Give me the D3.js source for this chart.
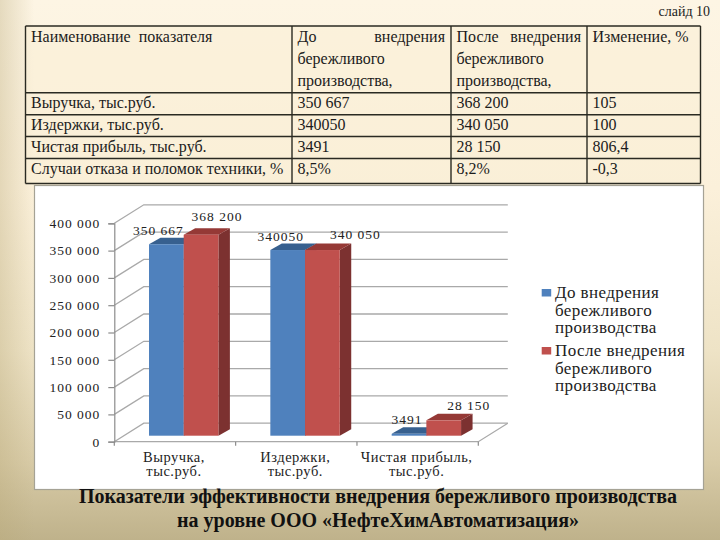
<!DOCTYPE html>
<html><head><meta charset="utf-8">
<script src="https://cdn.jsdelivr.net/npm/d3@7"></script>
<style>html,body{margin:0;padding:0;background:#fff}svg{display:block}text{font-family:"Liberation Serif",serif;white-space:pre}</style>
</head><body><svg id="c" width="720" height="540"></svg>
<script>
const categories = [["Выручка,","тыс.руб."],["Издержки,","тыс.руб."],["Чистая прибыль,","тыс.руб."]];
const seriesNames = [["До внедрения","бережливого","производства"],["После внедрения","бережливого","производства"]];
const before = [350667,340050,3491];
const after = [368200,340050,28150];
const beforeLabels = ["350 667","340050","3491"];
const afterLabels = ["368 200","340 050","28 150"];
const yTicks = [0,50000,100000,150000,200000,250000,300000,350000,400000];
const tableHeader = [["Наименование  показателя"],["До","бережливого","производства,"],["После","бережливого","производства,"],["Изменение, %"]];
const tableRows = [
 ["Выручка, тыс.руб.","350 667","368 200","105"],
 ["Издержки, тыс.руб.","340050","340 050","100"],
 ["Чистая прибыль, тыс.руб.","3491","28 150","806,4"],
 ["Случаи отказа и поломок техники, %","8,5%","8,2%","-0,3"]];
const titleLines = ["Показатели эффективности внедрения бережливого производства","на уровне ООО «НефтеХимАвтоматизация»"];

const svg = d3.select("#c");
const defs = svg.append("defs");
const g1 = defs.append("linearGradient").attr("id","bg").attr("x1",0).attr("y1",0).attr("x2",0).attr("y2",1);
[[0,"#fdf5e4"],[.35,"#fbf0da"],[.65,"#eee3c6"],[.85,"#d9cca8"],[1,"#bfb28b"]].forEach(s=>g1.append("stop").attr("offset",s[0]).attr("stop-color",s[1]));
const g2 = defs.append("linearGradient").attr("id","lft").attr("x1",0).attr("y1",0).attr("x2",1).attr("y2",0);
g2.append("stop").attr("offset",0).attr("stop-color","#b8a878").attr("stop-opacity",.35);
g2.append("stop").attr("offset",1).attr("stop-color","#b8a878").attr("stop-opacity",0);
svg.append("rect").attr("width",720).attr("height",540).attr("fill","url(#bg)");
svg.append("rect").attr("width",34).attr("height",540).attr("fill","url(#lft)");

svg.append("text").attr("x",710).attr("y",16).attr("text-anchor","end").attr("font-size",14).attr("fill","#222").text("слайд 10");

// table
const colX = [25.5,292,451,587,700.5], rowY = [26,92.7,114.7,136.5,158.5,183.5];
const tbl = svg.append("g");
tbl.append("rect").attr("x",colX[0]).attr("y",rowY[0]).attr("width",colX[4]-colX[0]).attr("height",rowY[5]-rowY[0]).attr("fill","#faeed6").attr("fill-opacity",.55);
rowY.forEach(y=>tbl.append("line").attr("x1",colX[0]).attr("x2",colX[4]).attr("y1",y).attr("y2",y).attr("stroke","#2a2a22").attr("stroke-width",1.4));
colX.forEach(x=>tbl.append("line").attr("x1",x).attr("x2",x).attr("y1",rowY[0]).attr("y2",rowY[5]).attr("stroke","#2a2a22").attr("stroke-width",1.4));
const cell=(x,y,t,anchor)=>tbl.append("text").attr("x",x).attr("y",y).attr("font-size",16).attr("fill","#1c1c1c").attr("text-anchor",anchor||"start").text(t);
const headBase=[42,64,86];
tableHeader.forEach((lines,c)=>lines.forEach((t,i)=>cell(colX[c]+5.5,headBase[i],t)));
cell(445,42,"внедрения","end"); cell(581,42,"внедрения","end");
const rowBase=[108,130,152,174];
tableRows.forEach((r,i)=>r.forEach((t,c)=>cell(colX[c]+5.5,rowBase[i],t)));

// chart panel
svg.append("rect").attr("x",34.5).attr("y",185.5).attr("width",669).attr("height",304).attr("fill","#fff").attr("stroke","#a5a295").attr("stroke-width",1.2);

const x0 = d3.scaleBand().domain(d3.range(categories.length)).range([114.3,478.3]);
const y = d3.scaleLinear().domain([0,400000]).range([441.7,223.3]);
const depth = {dx:29.5,dy:-18.5}, bar = {dx:11.5,dy:-6.5,lift:-6,w:34.7,pad:34.7};
const grid = svg.append("g");
yTicks.forEach(t=>{
  grid.append("path").attr("fill","none").attr("stroke","#a9a9a9").attr("stroke-width",1.3)
   .attr("d",`M${x0.range()[0]},${y(t)}L${x0.range()[0]+depth.dx},${y(t)+depth.dy}L${x0.range()[1]+depth.dx},${y(t)+depth.dy}`);
});
grid.append("path").attr("fill","none").attr("stroke","#a9a9a9").attr("stroke-width",1.3)
  .attr("d",`M${x0.range()[0]},${y(0)}L${x0.range()[1]},${y(0)}L${x0.range()[1]+depth.dx},${y(0)+depth.dy}`);

const yAxis = d3.axisLeft(y).tickValues(yTicks).tickSize(6).tickPadding(8)
  .tickFormat(d=>d3.format(",")(d).replace(/,/g," "));
const ya = svg.append("g").attr("transform",`translate(${x0.range()[0]},0)`).call(yAxis);
ya.selectAll("path,line").attr("stroke","#8c8c8c").attr("stroke-width",1.2);
ya.selectAll("text").attr("font-size",13.5).attr("letter-spacing",1).attr("fill","#222").style("font-family",'"Liberation Serif",serif');

const xticks = svg.append("g");
d3.range(categories.length+1).forEach(i=>{
  const xp = x0.range()[0]+i*x0.step();
  xticks.append("line").attr("x1",xp).attr("x2",xp).attr("y1",y(0)).attr("y2",y(0)+4).attr("stroke","#8c8c8c").attr("stroke-width",1.2);
});
categories.forEach((c,i)=>{
  const t = svg.append("text").attr("text-anchor","middle").attr("font-size",14.5).attr("letter-spacing",.5).attr("fill","#222");
  c.forEach((s,j)=>t.append("tspan").attr("x",x0(i)+x0.bandwidth()/2-1).attr("y",461.5+j*14.5).text(s));
});

const colors = [{f:"#4f81bd",t:"#37608f",s:"#2f5480"},{f:"#c0504d",t:"#953936",s:"#7c3130"}];
[before,after].forEach((vals,si)=>{
  const c = colors[si];
  const g = svg.append("g");
  vals.forEach((v,i)=>{
    const xl = x0(i)+bar.pad+si*bar.w, xr = xl+bar.w;
    const yb = y(0)+bar.lift, yt = y(v)+bar.lift;
    g.append("path").attr("fill",c.s).attr("d",`M${xr},${yb}L${xr+bar.dx},${yb+bar.dy}L${xr+bar.dx},${yt+bar.dy}L${xr},${yt}Z`);
    g.append("path").attr("fill",c.t).attr("d",`M${xl},${yt}L${xl+bar.dx},${yt+bar.dy}L${xr+bar.dx},${yt+bar.dy}L${xr},${yt}Z`);
    g.append("rect").attr("fill",c.f).attr("x",xl).attr("y",yt).attr("width",bar.w).attr("height",Math.max(0,yb-yt));
  });
});

const nudges = [[[-8,-9],[-7,-9],[-2,-10]],[[16,-14],[33,-11],[25,-10]]];
[[before,beforeLabels],[after,afterLabels]].forEach(([vals,labs],si)=>{
  vals.forEach((v,i)=>{
    const xc = x0(i)+bar.pad+si*bar.w+bar.w/2;
    const yt = y(v)+bar.lift;
    svg.append("text").attr("x",xc+nudges[si][i][0]).attr("y",yt+nudges[si][i][1])
      .attr("text-anchor","middle").attr("font-size",13.5).attr("letter-spacing",1).attr("fill","#222").text(labs[i]);
  });
});

// legend
const legY=[298,356];
seriesNames.forEach((lines,si)=>{
  svg.append("rect").attr("x",541.7).attr("y",legY[si]-9).attr("width",9.5).attr("height",7.5).attr("fill",colors[si].f);
  lines.forEach((s,j)=>svg.append("text").attr("x",555).attr("y",legY[si]+j*17.5).attr("font-size",17).attr("letter-spacing",.4).attr("fill","#222").text(s));
});

// title
titleLines.forEach((s,i)=>svg.append("text").attr("x",378).attr("y",503+i*24).attr("text-anchor","middle").attr("font-size",20).attr("font-weight","bold").attr("fill","#111").text(s));
</script></body></html>
